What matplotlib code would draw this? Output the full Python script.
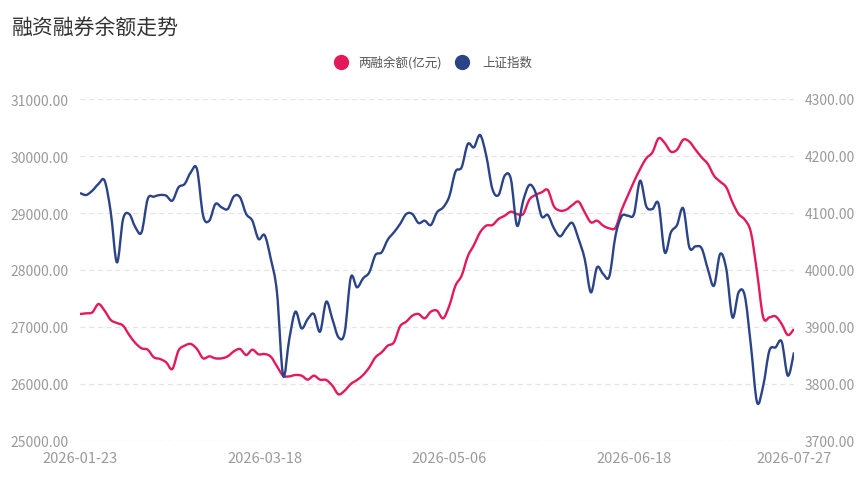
import matplotlib
matplotlib.use("Agg")
import matplotlib.pyplot as plt
from matplotlib.lines import Line2D
from matplotlib.path import Path
from matplotlib.patches import PathPatch

plt.rcParams['font.family'] = ['Noto Sans CJK SC', 'DejaVu Sans']

# 两融余额 (亿元), left axis
margin_balance = [
    27228, 27240, 27257, 27403, 27286, 27123, 27070, 27023, 26859, 26719,
    26626, 26602, 26468, 26439, 26380, 26263, 26585, 26672, 26702, 26614,
    26450, 26485, 26450, 26450, 26485, 26573, 26614, 26509, 26602, 26521,
    26526, 26479, 26310, 26146, 26134, 26158, 26146, 26076, 26146, 26076,
    26070, 25971, 25819, 25883, 26000, 26070, 26158, 26292, 26468, 26555,
    26672, 26731, 27011, 27093, 27199, 27228, 27152, 27269, 27286, 27152,
    27374, 27725, 27900, 28240, 28438, 28661, 28778, 28789, 28895, 28953,
    29023, 28982, 28982, 29234, 29316, 29362, 29403, 29117, 29041, 29058,
    29140, 29199, 29012, 28836, 28865, 28778, 28731, 28743, 29055, 29304,
    29550, 29772, 29959, 30064, 30310, 30228, 30076, 30111, 30286, 30251,
    30111, 29976, 29860, 29655, 29550, 29450, 29187, 28982, 28883, 28661,
    27959, 27169, 27169, 27187, 27052, 26859, 26965,
]

# 上证指数, right axis
sh_index = [
    4135.1, 4131.6, 4139.2, 4150.9, 4156.7, 4101.2, 4013.4, 4089.5, 4098.2, 4074.9,
    4066.1, 4124.5, 4128.6, 4131.6, 4130.4, 4121.6, 4145.0, 4150.9, 4171.3, 4177.2,
    4095.3, 4086.5, 4115.8, 4109.9, 4107.0, 4129.2, 4127.5, 4098.2, 4086.5, 4054.4,
    4061.0, 4019.3, 3960.8, 3814.6, 3878.9, 3926.9, 3897.6, 3914.0, 3922.8, 3891.8,
    3944.4, 3914.0, 3881.9, 3890.6, 3987.1, 3969.6, 3985.4, 3995.9, 4026.3, 4031.0,
    4053.2, 4066.1, 4080.7, 4098.2, 4098.2, 4082.4, 4086.5, 4078.9, 4101.2, 4109.9,
    4129.2, 4172.5, 4180.1, 4221.0, 4215.2, 4236.8, 4200.6, 4142.1, 4131.6, 4165.5,
    4159.6, 4077.8, 4121.6, 4149.1, 4136.3, 4094.1, 4096.5, 4073.1, 4059.0, 4073.1,
    4082.4, 4054.4, 4019.3, 3960.8, 4004.7, 3993.0, 3988.9, 4060.2, 4094.5, 4095.3,
    4098.2, 4156.7, 4111.7, 4107.0, 4115.8, 4031.0, 4066.1, 4078.9, 4108.2, 4039.8,
    4041.5, 4038.0, 4001.7, 3972.5, 4028.1, 4001.7, 3916.9, 3960.8, 3955.0, 3867.2,
    3767.8, 3797.1, 3858.5, 3864.3, 3874.3, 3814.6, 3855.5,
]

date_ticks = [0, 30, 60, 90, 116]
date_labels = ['2026-01-23', '2026-03-18', '2026-05-06', '2026-06-18', '2026-07-27']
left_ticks = [25000, 26000, 27000, 28000, 29000, 30000, 31000]
right_ticks = [3700, 3800, 3900, 4000, 4100, 4200, 4300]

pink = '#e3195b'
navy = '#2b4488'
grey = '#9a9a9a'


def smooth_line(axis, ys, color):
    '''Draw the series as a curved path through its points (like a smoothed line chart)'''
    n = len(ys)
    verts = [(0, ys[0])]
    codes = [Path.MOVETO]
    for i in range(n - 1):
        x0, x1 = i, i + 1
        xp, yp = (i - 1, ys[i - 1]) if i > 0 else (x0, ys[i])
        xn, yn = (i + 2, ys[i + 2]) if i + 2 < n else (x1, ys[i + 1])
        c1 = (x0 + (x1 - xp) / 6, ys[i] + (ys[i + 1] - yp) / 6)
        c2 = (x1 - (xn - x0) / 6, ys[i + 1] - (yn - ys[i]) / 6)
        verts += [c1, c2, (x1, ys[i + 1])]
        codes += [Path.CURVE4] * 3
    axis.add_patch(PathPatch(Path(verts, codes), fill=False, edgecolor=color,
                             lw=1.7, joinstyle='round', zorder=3))


fig = plt.figure(figsize=(8.65, 4.81), dpi=100)
ax = fig.add_axes([80 / 865, 39 / 481, 714 / 865, 342 / 481])
ax2 = ax.twinx()

smooth_line(ax, margin_balance, pink)
smooth_line(ax2, sh_index, navy)

ax.set_xlim(0, 116)
ax.set_ylim(25000, 31000)
ax2.set_ylim(3700, 4300)
ax.set_yticks(left_ticks)
ax.set_yticklabels([f'{v:.2f}' for v in left_ticks])
ax2.set_yticks(right_ticks)
ax2.set_yticklabels([f'{v:.2f}' for v in right_ticks])
ax.set_xticks(date_ticks)
ax.set_xticklabels(date_labels)

for a in (ax, ax2):
    for s in a.spines.values():
        s.set_visible(False)
    a.tick_params(length=0, colors=grey, labelsize=10)
ax.tick_params(axis='y', pad=8)
ax2.tick_params(axis='y', pad=8)
ax.tick_params(axis='x', pad=7, labelsize=10.5)

ax.grid(axis='y', color='#e4e4e4', lw=0.9, linestyle=(0, (4, 3)))
ax.set_axisbelow(True)

fig.text(12 / 865, 1 - 29 / 481, '融资融券余额走势', fontsize=15, color='#333333',
         va='center', ha='left')

# legend
ly = 1 - 63 / 481
for cx, tx, col, lab in [(341, 358, pink, '两融余额(亿元)'), (462, 482, navy, '上证指数')]:
    fig.add_artist(Line2D([cx / 865], [ly], marker='o', markersize=10, color=col,
                          transform=fig.transFigure, linestyle='none'))
    fig.text(tx / 865, ly, lab, fontsize=9, color='#555555', va='center', ha='left')

fig.savefig('out.png', dpi=100)
